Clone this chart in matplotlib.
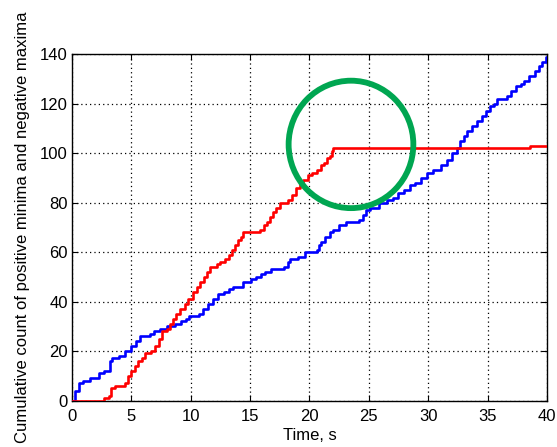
import matplotlib
matplotlib.use("Agg")
import matplotlib.pyplot as plt
from matplotlib.patches import Ellipse

plt.rcParams['font.family'] = ['Liberation Sans', 'DejaVu Sans']

# Step breakpoints: time (s) at which the cumulative count changes, and the new count
blue_t = [0, 0.3, 0.6, 0.9, 1.5, 2.3, 2.7, 3.2, 3.4, 4.0, 4.5, 5.0, 5.4, 5.7, 6.6, 6.9,
          7.4, 8.0, 8.7, 9.2, 9.6, 9.9, 10.7, 11.0, 11.5, 11.9, 12.3, 12.8, 13.2, 13.6,
          14.4, 15.1, 15.5, 15.9, 16.3, 16.8, 17.9, 18.2, 18.4, 19.0, 19.6, 20.6, 20.8,
          21.0, 21.3, 21.7, 22.0, 22.5, 23.1, 24.2, 24.5, 24.8, 25.1, 25.9, 26.5, 27.0,
          27.5, 28.0, 28.5, 28.9, 29.4, 29.9, 30.4, 31.1, 31.6, 32.0, 32.4, 32.7, 33.0,
          33.3, 33.7, 34.1, 34.5, 34.9, 35.2, 35.5, 35.8, 36.6, 37.0, 37.4, 37.8, 38.1,
          38.5, 39.0, 39.3, 39.6, 39.9, 40.0]
blue_n = [0, 4, 7, 8, 9, 11, 12, 16, 17, 18, 20, 22, 24, 26, 27, 28,
          29, 30, 31, 32, 33, 34, 35, 37, 39, 41, 43, 44, 45, 46,
          48, 49, 50, 51, 52, 53, 54, 56, 57, 58, 60, 61, 63,
          64, 66, 68, 69, 71, 72, 73, 75, 77, 78, 80, 81, 82,
          84, 85, 87, 88, 90, 92, 93, 95, 97, 100, 102, 105, 107,
          109, 111, 113, 115, 117, 119, 120, 122, 123, 125, 127, 128, 129,
          131, 133, 135, 137, 139, 139]

red_t = [0, 2.7, 3.1, 3.3, 3.6, 4.5, 4.7, 5.0, 5.3, 5.6, 5.9, 6.2, 6.7, 7.0, 7.3, 7.55,
         8.0, 8.3, 8.5, 8.8, 9.1, 9.5, 9.8, 10.2, 10.5, 10.8, 11.1, 11.4, 11.6, 12.2,
         12.5, 12.9, 13.2, 13.45, 13.7, 14.0, 14.2, 14.4, 15.8, 16.2, 16.4, 16.7, 16.9,
         17.2, 17.5, 18.2, 18.5, 18.9, 19.2, 19.5, 19.9, 20.2, 20.6, 21.0, 21.2, 21.5,
         21.7, 21.9, 22.0, 38.6, 40.0]
red_n = [0, 1, 2, 5, 6, 7, 10, 12, 14, 16, 17, 19, 20, 22, 25, 28,
         29, 31, 33, 35, 37, 39, 41, 44, 46, 48, 50, 52, 54, 55,
         56, 57, 59, 61, 63, 65, 66, 68, 69, 71, 72, 74, 76,
         78, 80, 81, 83, 86, 88, 89, 91, 92, 93, 95, 96, 98,
         99, 101, 102, 103, 103]

x_ticks = [0, 5, 10, 15, 20, 25, 30, 35, 40]
y_ticks = [0, 20, 40, 60, 80, 100, 120, 140]

# Highlight circle around where the red count levels off
circle_center = (23.5, 103.5)

fig = plt.figure(figsize=(5.57, 4.47), dpi=100)
ax = fig.add_axes([0.129, 0.104, 0.853, 0.775])

ax.plot(blue_t, blue_n, drawstyle='steps-post', color='#0000ff', lw=1.9, zorder=3)
ax.plot(red_t, red_n, drawstyle='steps-post', color='#ff0000', lw=1.9, zorder=3)

ax.add_patch(Ellipse(circle_center, width=10.5, height=51.5, fill=False,
                     edgecolor='#00a651', lw=4.2, zorder=4))

ax.set_xlim(0, 40)
ax.set_ylim(0, 140)
ax.set_xticks(x_ticks)
ax.set_yticks(y_ticks)
ax.grid(True, color='black', linestyle=(0, (1, 2.5)), lw=0.9)
ax.tick_params(direction='in', length=4, width=0.8, top=True, right=True,
               labelsize=12, colors='black', pad=3)
ax.tick_params(axis='x', pad=6)
for s in ax.spines.values():
    s.set_linewidth(1.0)
    s.set_color('black')

ax.set_xlabel('Time, s', fontsize=12, labelpad=3)
ax.set_ylabel('Cumulative count of positive minima and negative maxima',
              fontsize=12, labelpad=7)

fig.savefig('out.png', dpi=100)
